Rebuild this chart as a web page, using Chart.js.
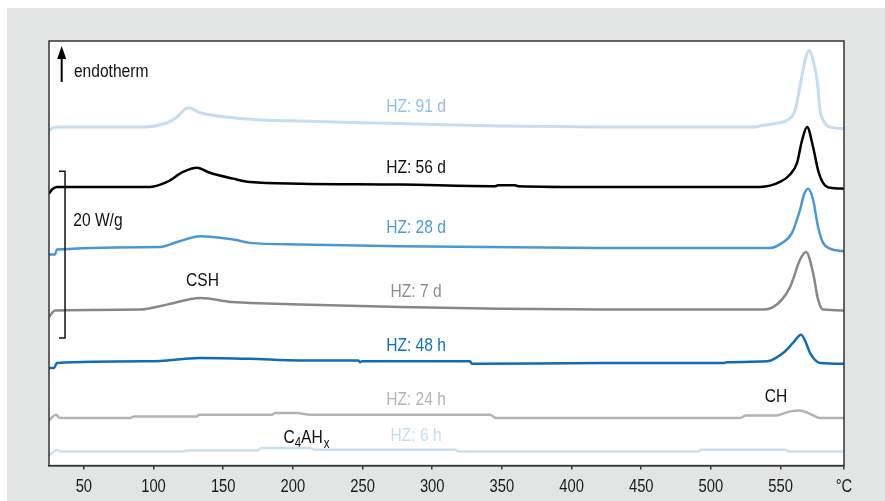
<!DOCTYPE html>
<html>
<head>
<meta charset="utf-8">
<script src="https://cdn.jsdelivr.net/npm/chart.js@4"></script>
<style>
html, body { margin: 0; padding: 0; background: #fff; }
</style>
</head>
<body>
<canvas id="dsc" width="885" height="501"></canvas>
<script>
'use strict';

// temperature (°C) and heat flow (W/g, curves offset for display)
var t91 = [25, 27.9, 32.9, 92.5, 109.7, 116.9, 124.8, 133.4, 157.1, 181.5, 205.1, 276.9, 348.7, 420.4, 531.7, 534.5, 546.0, 554.6, 560.4, 564.7, 567.6, 570.4, 573.3, 576.2, 578.3, 581.2, 584.8, 595.5];
var v91 = [40.1, 40.5, 40.6, 40.6, 41.1, 41.8, 42.9, 42.3, 41.7, 41.4, 41.3, 41.0, 40.7, 40.6, 40.6, 40.7, 41.0, 41.4, 42.6, 46.2, 48.6, 49.8, 48.6, 46.2, 42.6, 41.2, 40.6, 40.4];

var t56 = [25, 27.2, 30.7, 97.5, 109.7, 121.2, 131.2, 140.5, 157.1, 169.3, 205.1, 276.9, 345.1, 347.2, 359.4, 361.6, 420.4, 535.3, 549.6, 556.8, 561.8, 565.4, 569.0, 573.3, 576.9, 580.5, 585.5, 595.5];
var v56 = [32.6, 33.1, 33.4, 33.4, 34.0, 35.2, 35.7, 35.1, 34.4, 34.0, 33.8, 33.7, 33.5, 33.6, 33.6, 33.5, 33.4, 33.4, 34.0, 34.9, 36.3, 39.0, 40.6, 38.2, 35.4, 33.9, 33.3, 33.2];

var t28 = [25, 29.3, 30.7, 104.7, 116.9, 133.4, 157.1, 169.3, 205.1, 276.9, 420.4, 542.4, 551.1, 558.2, 564.0, 566.8, 569.7, 573.3, 576.9, 580.5, 585.5, 595.5];
var v28 = [25.3, 25.3, 25.9, 26.2, 26.8, 27.5, 27.1, 26.7, 26.5, 26.3, 26.1, 26.1, 26.7, 27.9, 30.7, 32.5, 33.2, 31.9, 28.6, 26.7, 26.0, 25.7];

var t7 = [25, 29.3, 90.3, 109.7, 133.4, 157.1, 169.3, 205.1, 276.9, 348.7, 420.4, 535.3, 544.6, 556.8, 564.0, 568.3, 573.3, 576.9, 580.5, 595.5];
var v7 = [17.8, 18.6, 18.7, 19.3, 20.1, 19.6, 19.5, 19.3, 19.0, 18.8, 18.7, 18.7, 19.0, 21.4, 24.7, 25.6, 23.1, 19.9, 18.7, 18.6];

var t48 = [25, 28.6, 30.7, 97.5, 133.4, 169.3, 205.1, 246.8, 248.2, 249.6, 327.1, 328.6, 420.4, 509.4, 511.5, 540.3, 551.8, 558.9, 564.7, 568.3, 571.1, 578.3, 595.5];
var v48 = [11.7, 11.7, 12.3, 12.5, 12.9, 12.8, 12.6, 12.6, 12.4, 12.5, 12.5, 12.2, 12.3, 12.3, 12.4, 12.5, 13.5, 14.7, 15.7, 14.7, 13.5, 12.3, 12.2];

var t24 = [25, 27.9, 30.0, 32.9, 83.1, 86.0, 131.2, 132.6, 185.0, 187.2, 203.0, 212.3, 341.5, 345.8, 520.9, 525.2, 546.0, 556.8, 564.0, 571.1, 578.3, 595.5];
var v24 = [5.4, 5.9, 6.1, 5.7, 5.7, 5.9, 5.9, 6.1, 6.1, 6.3, 6.3, 6.1, 6.1, 5.7, 5.7, 6.0, 6.0, 6.5, 6.6, 6.2, 5.7, 5.7];

var t6 = [25, 27.9, 30.7, 32.9, 121.2, 123.3, 175.0, 177.1, 212.3, 215.9, 316.4, 319.2, 490.8, 492.9, 553.2, 556.1, 595.5];
var v6 = [1.2, 1.6, 1.9, 1.7, 1.7, 1.8, 1.8, 2.1, 2.1, 1.9, 1.9, 1.7, 1.7, 1.9, 1.9, 1.7, 1.7];

var xTicks = [50, 100, 150, 200, 250, 300, 350, 400, 450, 500, 550];
var xMin = 25;
var xMax = 595.5;

// no condensed face installed, so squeeze Liberation Sans horizontally
var FONT = "'Liberation Sans', Arial, sans-serif";
var SQUEEZE = 0.82;

function pts(t, v) {
    return t.map(function (x, i) { return { x: x, y: v[i] }; });
}

function curve(label, t, v, color, width) {
    return {
        label: label,
        data: pts(t, v),
        borderColor: color,
        borderWidth: width,
        pointRadius: 0,
        fill: false,
        cubicInterpolationMode: 'monotone'
    };
}

function narrowText(ctx, text, x, y, size, color, align) {
    ctx.save();
    ctx.font = size + 'px ' + FONT;
    ctx.fillStyle = color;
    ctx.textAlign = 'left';
    ctx.textBaseline = 'alphabetic';
    var w = ctx.measureText(text).width * SQUEEZE;
    var left = align === 'center' ? x - w / 2 : x;
    ctx.translate(left, y);
    ctx.scale(SQUEEZE, 1);
    ctx.fillText(text, 0, 0);
    ctx.restore();
    return w;
}

// curve labels: text, temperature, baseline heat flow, colour
var labels = [
    ['HZ: 91 d', 288.4, 42.4, '#8fc1e4'],
    ['HZ: 56 d', 288.4, 35.1, '#111111'],
    ['HZ: 28 d', 288.4, 27.9, '#4d9bd5'],
    ['HZ: 7 d', 288.4, 20.2, '#8c8c8c'],
    ['HZ: 48 h', 288.4, 13.7, '#1170b8'],
    ['HZ: 24 h', 288.4, 7.3, '#b5b5b5'],
    ['HZ: 6 h', 288.4, 2.9, '#c3dcf0'],
    ['CSH', 135.2, 21.5, '#111111'],
    ['CH', 546.7, 7.6, '#111111']
];

var decor = {
    id: 'decor',
    beforeDraw: function (chart) {
        var ctx = chart.ctx, a = chart.chartArea;
        ctx.save();
        ctx.fillStyle = '#ffffff';
        ctx.fillRect(0, 0, chart.width, chart.height);
        ctx.fillStyle = '#e3e4e4';
        ctx.fillRect(7, 8, chart.width - 7, chart.height - 8);
        ctx.fillStyle = '#ffffff';
        ctx.fillRect(a.left, a.top, a.right - a.left, a.bottom - a.top);
        ctx.restore();
    },
    afterDraw: function (chart) {
        var ctx = chart.ctx, a = chart.chartArea;
        var xs = chart.scales.x, ys = chart.scales.y;
        ctx.save();
        ctx.strokeStyle = '#333333';
        ctx.lineWidth = 1.5;
        ctx.strokeRect(a.left, a.top, a.right - a.left, a.bottom - a.top);

        // tick labels
        xs.ticks.forEach(function (tk) {
            var txt = tk.value === xMax ? '°C' : String(tk.value);
            narrowText(ctx, txt, xs.getPixelForValue(tk.value), a.bottom + 26, 18, '#1a1a1a', 'center');
        });

        labels.forEach(function (l) {
            narrowText(ctx, l[0], xs.getPixelForValue(l[1]), ys.getPixelForValue(l[2]), 19, l[3], 'center');
        });

        // C4AHx with subscripts
        var cx = xs.getPixelForValue(193.2), cy = ys.getPixelForValue(2.7);
        cx += narrowText(ctx, 'C', cx, cy, 19, '#111111');
        cx += narrowText(ctx, '4', cx, cy + 4, 14, '#111111');
        cx += narrowText(ctx, 'AH', cx, cy, 19, '#111111');
        narrowText(ctx, 'x', cx + 1, cy + 5, 14, '#111111');

        // endotherm arrow
        var ax = xs.getPixelForValue(34.1);
        var aTop = ys.getPixelForValue(50.3), aBot = ys.getPixelForValue(46.0);
        ctx.strokeStyle = '#000';
        ctx.lineWidth = 2;
        ctx.beginPath();
        ctx.moveTo(ax, aBot);
        ctx.lineTo(ax, aTop + 10);
        ctx.stroke();
        ctx.fillStyle = '#000';
        ctx.beginPath();
        ctx.moveTo(ax, aTop);
        ctx.lineTo(ax - 4.5, aTop + 13);
        ctx.lineTo(ax + 4.5, aTop + 13);
        ctx.closePath();
        ctx.fill();
        narrowText(ctx, 'endotherm', xs.getPixelForValue(42.9), ys.getPixelForValue(46.6), 19, '#111111');

        // 20 W/g scale bar
        var bx = xs.getPixelForValue(36.5), bl = xs.getPixelForValue(32.2);
        var b1 = ys.getPixelForValue(35.3), b2 = ys.getPixelForValue(15.3);
        ctx.lineWidth = 1.5;
        ctx.strokeStyle = '#111';
        ctx.beginPath();
        ctx.moveTo(bl, b1);
        ctx.lineTo(bx, b1);
        ctx.lineTo(bx, b2);
        ctx.lineTo(bl, b2);
        ctx.stroke();
        narrowText(ctx, '20 W/g', xs.getPixelForValue(42.4), ys.getPixelForValue(28.7), 19, '#111111');
        ctx.restore();
    }
};

var chart = new Chart(document.getElementById('dsc'), {
    type: 'line',
    data: {
        datasets: [
            curve('HZ: 91 d', t91, v91, '#c4ddef', 3),
            curve('HZ: 56 d', t56, v56, '#000000', 2.5),
            curve('HZ: 28 d', t28, v28, '#4a98d2', 2.5),
            curve('HZ: 7 d', t7, v7, '#888888', 2.5),
            curve('HZ: 48 h', t48, v48, '#106db5', 2.5),
            curve('HZ: 24 h', t24, v24, '#b3b3b3', 2.5),
            curve('HZ: 6 h', t6, v6, '#cae0f1', 2.5)
        ]
    },
    options: {
        responsive: false,
        animation: false,
        devicePixelRatio: 1,
        layout: { padding: { left: 49, right: 41, top: 41, bottom: 1 } },
        plugins: {
            legend: { display: false },
            tooltip: { enabled: false }
        },
        scales: {
            x: {
                type: 'linear',
                min: xMin,
                max: xMax,
                afterBuildTicks: function (axis) {
                    axis.ticks = xTicks.concat([xMax]).map(function (v) { return { value: v }; });
                },
                ticks: {
                    autoSkip: false,
                    maxRotation: 0,
                    padding: 5,
                    color: 'rgba(0,0,0,0)',
                    font: { family: FONT, size: 17 },
                    callback: function (v) { return v === xMax ? '°C' : v; }
                },
                grid: {
                    drawOnChartArea: false,
                    drawTicks: true,
                    tickLength: 4,
                    color: '#333333',
                    lineWidth: 1.5
                },
                border: { display: true, color: '#333333', width: 1.5 }
            },
            y: {
                display: false,
                min: 0,
                max: 50.9
            }
        }
    },
    plugins: [decor]
});
</script>
</body>
</html>
